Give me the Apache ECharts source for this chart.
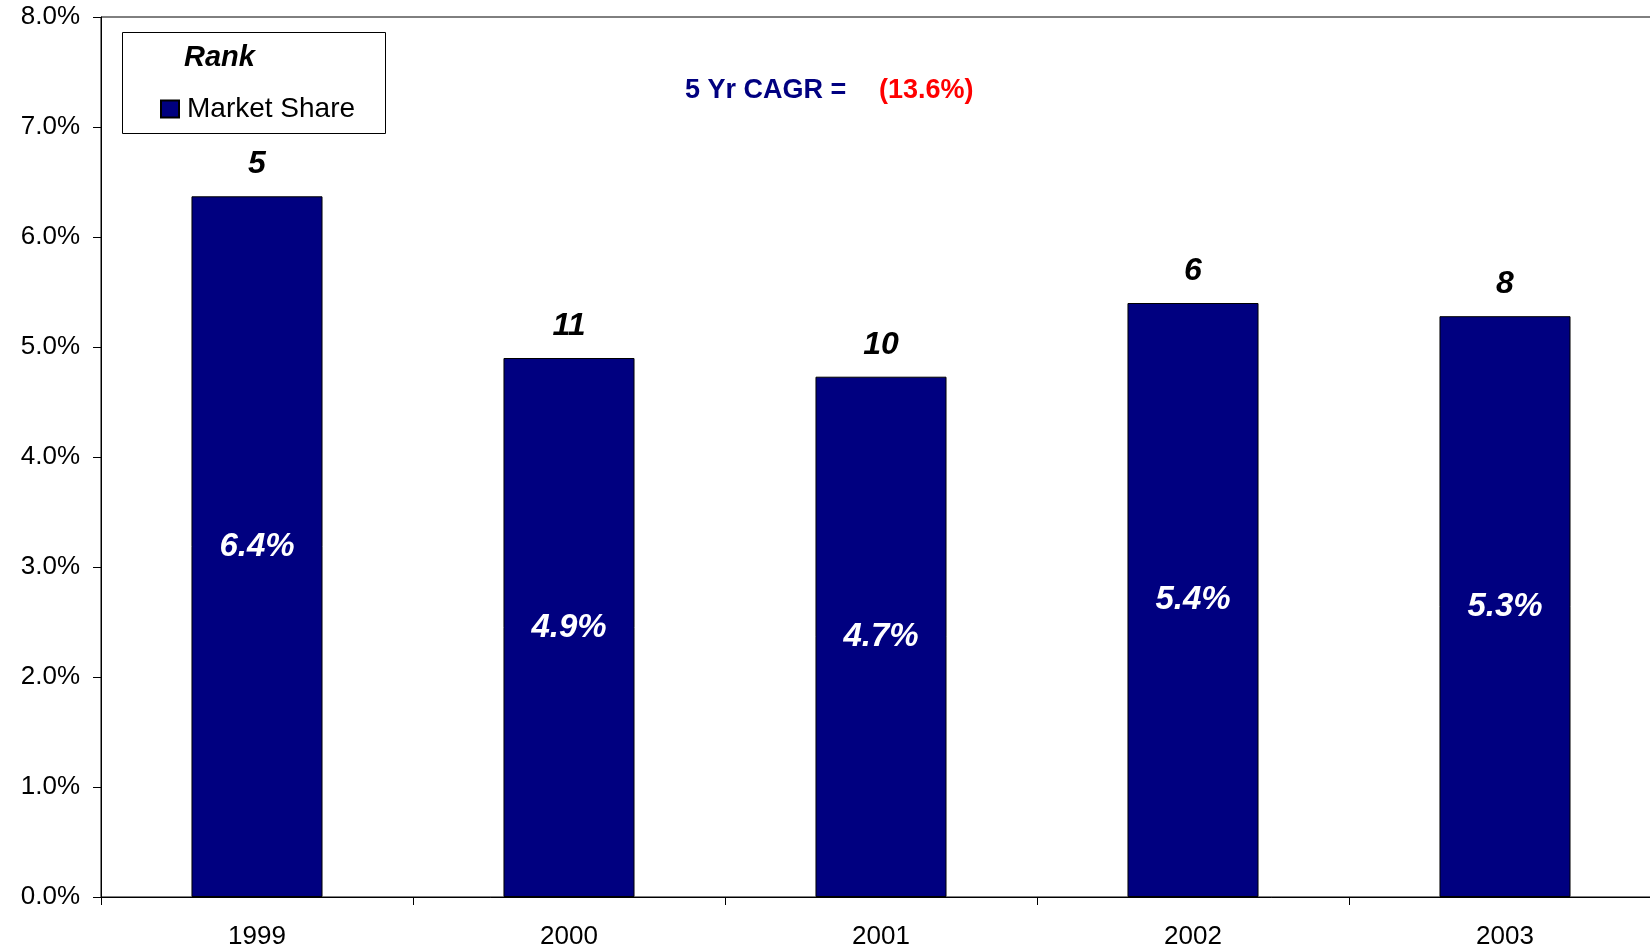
<!DOCTYPE html>
<html>
<head>
<meta charset="utf-8">
<script src="https://cdn.jsdelivr.net/npm/echarts@6/dist/echarts.min.js"></script>
<style>html,body{margin:0;padding:0;background:#fff;overflow:hidden}#c{width:1661px;height:950px}</style>
</head>
<body>
<div id="c"></div>
<script>
var years = ['1999', '2000', '2001', '2002', '2003'];
var marketShare = [6.37, 4.90, 4.73, 5.40, 5.28];
var ranks = [5, 11, 10, 6, 8];
var yTicks = { min: 0, max: 8, interval: 1 };
var cagrLabel = '5 Yr CAGR =';
var cagrValue = '(13.6%)';

var chart = echarts.init(document.getElementById('c'));
var font = '"Liberation Sans", Arial, sans-serif';
chart.setOption({
  animation: false,
  textStyle: { fontFamily: font },
  grid: { left: 101, top: 17, bottom: 52, right: 0, show: true, borderColor: '#000', borderWidth: 1, containLabel: false },
  legend: {
    data: [{ name: 'Market Share' }],
    left: 155, top: 90,
    itemWidth: 18, itemHeight: 17,
    icon: 'rect',
    textStyle: { fontSize: 28, color: '#000', fontFamily: font, padding: [0, 0, 0, 3] }
  },
  graphic: [
    { type: 'rect', shape: { x: 122.5, y: 32.5, width: 263, height: 101 }, style: { fill: 'none', stroke: '#000', lineWidth: 1 }, z: 100 },
    { type: 'text', x: 184, y: 58, style: { text: 'Rank', font: 'italic bold 29px ' + font, fill: '#000', textVerticalAlign: 'middle' }, z: 100 },
    { type: 'text', x: 685, y: 90.5, style: { text: cagrLabel, font: 'bold 27px ' + font, fill: '#000080', textVerticalAlign: 'middle' }, z: 100 },
    { type: 'text', x: 879, y: 90.5, style: { text: cagrValue, font: 'bold 27px ' + font, fill: '#ff0000', textVerticalAlign: 'middle' }, z: 100 }
  ],
  xAxis: {
    type: 'category',
    data: years,
    axisLine: { lineStyle: { color: '#000', width: 1 } },
    axisTick: { show: true, length: 8, alignWithLabel: false, lineStyle: { color: '#000' } },
    axisLabel: { fontSize: 26, color: '#000', margin: 27, fontFamily: font }
  },
  yAxis: {
    type: 'value',
    min: yTicks.min, max: yTicks.max, interval: yTicks.interval,
    axisLine: { show: true, lineStyle: { color: '#000', width: 1 } },
    axisTick: { show: true, length: 8, lineStyle: { color: '#000' } },
    splitLine: { show: false },
    axisLabel: { fontSize: 26, color: '#000', margin: 21, fontFamily: font, formatter: function (v) { return v.toFixed(1) + '%'; } }
  },
  series: [
    {
      name: 'Market Share',
      type: 'bar',
      data: marketShare,
      barWidth: '42%',
      itemStyle: { color: '#000080', borderColor: '#000', borderWidth: 1 },
      label: {
        show: true, position: 'inside', color: '#fff', fontSize: 33, fontWeight: 'bold', fontStyle: 'italic', fontFamily: font,
        formatter: function (p) { return p.value.toFixed(1) + '%'; }
      }
    },
    {
      name: 'Rank',
      type: 'scatter',
      data: marketShare,
      symbolSize: 0,
      silent: true,
      itemStyle: { opacity: 1 },
      label: {
        show: true, position: 'top', distance: 16, color: '#000', fontSize: 32, fontWeight: 'bold', fontStyle: 'italic', fontFamily: font,
        formatter: function (p) { return String(ranks[p.dataIndex]); }
      }
    }
  ]
});
</script>
</body>
</html>
